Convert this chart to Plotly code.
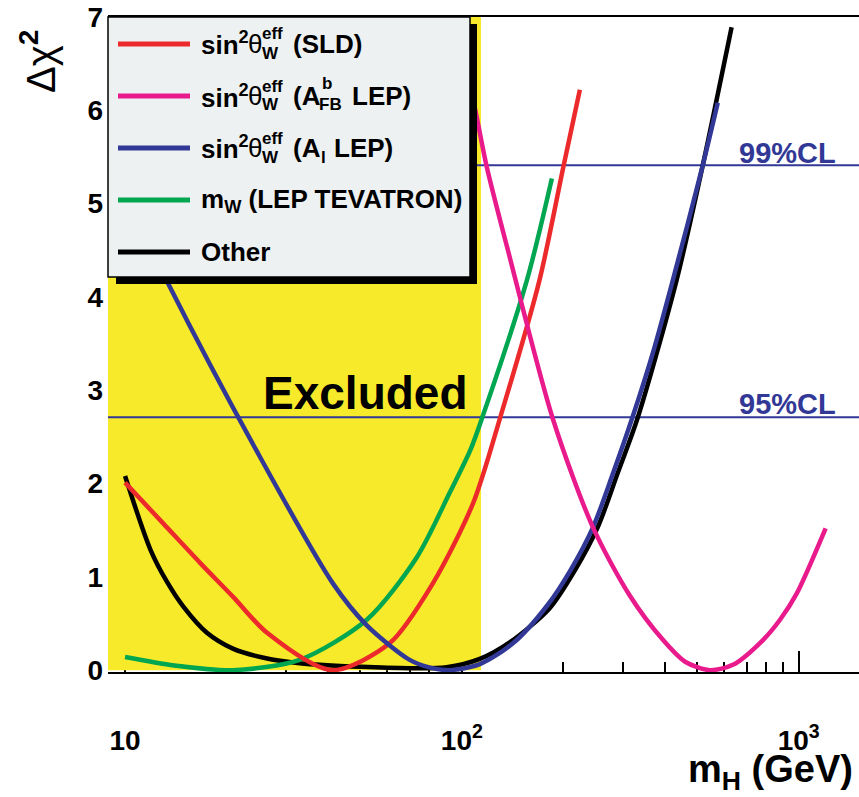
import plotly.graph_objects as go

# ---- Delta chi^2 profiles versus Higgs mass (GeV) ----
mh_other = [10, 11.9, 13.3, 14.9, 17.5, 20.9, 26, 33, 50, 70, 90, 113, 139, 182, 215, 253, 290, 333, 434, 519, 632]
chi_other = [2.08, 1.29, 0.95, 0.68, 0.40, 0.23, 0.13, 0.075, 0.035, 0.02, 0.03, 0.12, 0.30, 0.66, 1.05, 1.53, 2.11, 2.71, 4.18, 5.41, 6.89]

mh_sld = [10, 13, 16.7, 21, 26.4, 41.1, 61.1, 82, 108, 130, 170, 200, 224]
chi_sld = [2.01, 1.57, 1.15, 0.78, 0.40, 0.0, 0.29, 0.93, 1.79, 2.71, 4.18, 5.39, 6.22]

mh_afb = [104, 110.8, 118.6, 137, 186, 245, 315, 394, 460, 544, 640, 782, 880, 986, 1202]
chi_afb = [6.4, 5.92, 5.39, 4.50, 2.70, 1.53, 0.80, 0.33, 0.09, 0.0, 0.06, 0.32, 0.54, 0.82, 1.52]

mh_al = [10, 13.4, 24.5, 41.4, 52.2, 70, 80, 92, 113, 142, 179, 210, 245, 281, 321, 369, 423, 519, 575]
chi_al = [5.1, 4.15, 2.36, 0.93, 0.48, 0.11, 0.03, 0.0, 0.065, 0.29, 0.69, 1.07, 1.53, 2.11, 2.71, 3.40, 4.18, 5.41, 6.08]

mh_mw = [10, 14, 20.9, 33, 52.2, 73.5, 92, 106, 115, 156, 185]
chi_mw = [0.14, 0.05, 0.0, 0.11, 0.54, 1.21, 1.90, 2.36, 2.71, 4.18, 5.27]

# direct-search exclusion and confidence levels
excluded_limit = 114.0
cl_levels = [2.71, 5.41]
cl_labels = ["95%CL", "99%CL"]

x_range = [8.9, 1510]
y_range = [-0.02, 7]
x_tickvals = [10, 100, 1000]
x_ticktext = ["10", "10<sup>2</sup>", "10<sup>3</sup>"]
x_minor = [20, 30, 40, 50, 60, 70, 80, 90, 200, 300, 400, 500, 600, 700, 800, 900]

RED = "#ec2a2c"
MAGENTA = "#e81a8c"
BLUE = "#323896"
GREEN = "#00a650"
BLACK = "#000000"
YELLOW = "#f7ea2a"
LEGEND_BG = "#eef1f2"
FONT = "Liberation Sans, Arial, Helvetica, sans-serif"

W, H = 859, 797
ML, MR, MT, MB = 108, 0, 17, 125
PW, PH = W - ML - MR, H - MT - MB


def px(x):
    return (x - ML) / PW


def py(y):
    return (H - MB - y) / PH


fig = go.Figure()

# excluded region (drawn first so the curves sit on top)
fig.add_trace(go.Scatter(
    x=[1, excluded_limit, excluded_limit, 1, 1], y=[0, 0, 7, 7, 0],
    fill="toself", fillcolor=YELLOW, mode="none", hoverinfo="skip", showlegend=False))

for lvl in cl_levels:
    fig.add_trace(go.Scatter(x=[1, 5000], y=[lvl, lvl], mode="lines",
                             line=dict(color=BLUE, width=2), showlegend=False, hoverinfo="skip"))

curves = [
    (mh_other, chi_other, BLACK),
    (mh_mw, chi_mw, GREEN),
    (mh_sld, chi_sld, RED),
    (mh_al, chi_al, BLUE),
    (mh_afb, chi_afb, MAGENTA),
]
for xs, ys, col in curves:
    fig.add_trace(go.Scatter(x=xs, y=ys, mode="lines",
                             line=dict(color=col, width=4.5, shape="spline", smoothing=0.8),
                             showlegend=False))

shapes = []
annotations = []

# legend frame with drop shadow
shapes.append(dict(type="rect", xref="paper", yref="paper", layer="above",
                   x0=px(116), x1=px(477), y0=py(284), y1=py(24),
                   fillcolor="black", line=dict(width=0)))
shapes.append(dict(type="rect", xref="paper", yref="paper", layer="above",
                   x0=px(108), x1=px(470), y0=py(277), y1=py(17),
                   fillcolor=LEGEND_BG, line=dict(color="black", width=1.5)))

rows = [44, 96, 148, 200, 252]
row_cols = [RED, MAGENTA, BLUE, GREEN, BLACK]
for ry, col in zip(rows, row_cols):
    shapes.append(dict(type="line", xref="paper", yref="paper", layer="above",
                       x0=px(118), x1=px(190), y0=py(ry), y1=py(ry),
                       line=dict(color=col, width=5)))


def text(x, y, s, size=26, anchor="left", color="black", **kw):
    annotations.append(dict(x=px(x), y=py(y), xref="paper", yref="paper",
                            text=s, showarrow=False, xanchor=anchor, yanchor="middle",
                            font=dict(family=FONT, size=size, color=color), **kw))


def sin2theta(ry):
    text(199, ry, "<b>sin<sup>2</sup></b>")
    text(246, ry, "θ")
    text(260, ry - 10, "<b>eff</b>", size=17)
    text(260, ry + 9, "<b>W</b>", size=17)


sin2theta(rows[0])
text(291, rows[0], "<b>(SLD)</b>")

sin2theta(rows[1])
text(291, rows[1], "<b>(A</b>")
text(320, rows[1] - 12, "<b>b</b>", size=17)
text(317, rows[1] + 9, "<b>FB</b>", size=17)
text(350, rows[1], "<b>LEP)</b>")

sin2theta(rows[2])
text(291, rows[2], "<b>(A</b>")
text(319, rows[2] + 9, "<b>l</b>", size=17)
text(332, rows[2], "<b>LEP)</b>")

text(199, rows[3], "<b>m<sub>W</sub> (LEP TEVATRON)</b>")
text(199, rows[4], "<b>Other</b>")

# labels in the plot
text(365, 393, "<b>Excluded</b>", size=46, anchor="center")
text(838, 404, "<b>%s</b>" % cl_labels[0], size=29, anchor="right", color=BLUE)
text(838, 153, "<b>%s</b>" % cl_labels[1], size=29, anchor="right", color=BLUE)

# axis titles
text(855, 772, "<b>m<sub>H</sub> (GeV)</b>", size=38, anchor="right")
annotations.append(dict(x=px(38), y=py(62), xref="paper", yref="paper",
                        text="Δχ<sup><b>2</b></sup>", showarrow=False, textangle=-90,
                        xanchor="center", yanchor="middle",
                        font=dict(family=FONT, size=40, color="black")))

fig.update_layout(
    width=W, height=H,
    margin=dict(l=ML, r=MR, t=MT, b=MB, pad=0),
    paper_bgcolor="white", plot_bgcolor="white",
    shapes=shapes, annotations=annotations,
    showlegend=False,
    font=dict(family=FONT),
    xaxis=dict(type="log", range=[0.949390, 3.178977],
               showgrid=False, zeroline=False,
               showline=True, linecolor="black", linewidth=2, mirror=True,
               layer="below traces",
               tickmode="array", tickvals=x_tickvals, ticktext=x_ticktext,
               ticks="inside", ticklen=21, tickwidth=1.5, tickcolor="black",
               minor=dict(tickmode="array", tickvals=x_minor, ticks="inside",
                          ticklen=10, tickwidth=1.5, tickcolor="black"),
               tickfont=dict(family=FONT, size=28, color="black", weight="bold"),
               ticklabelstandoff=42),
    yaxis=dict(range=y_range, showgrid=False, zeroline=False, showline=False,
               tickmode="array", tickvals=list(range(8)), ticks="",
               layer="below traces",
               tickfont=dict(family=FONT, size=28, color="black", weight="bold"),
               ticklabelstandoff=4),
)

fig.write_html("out.html")
